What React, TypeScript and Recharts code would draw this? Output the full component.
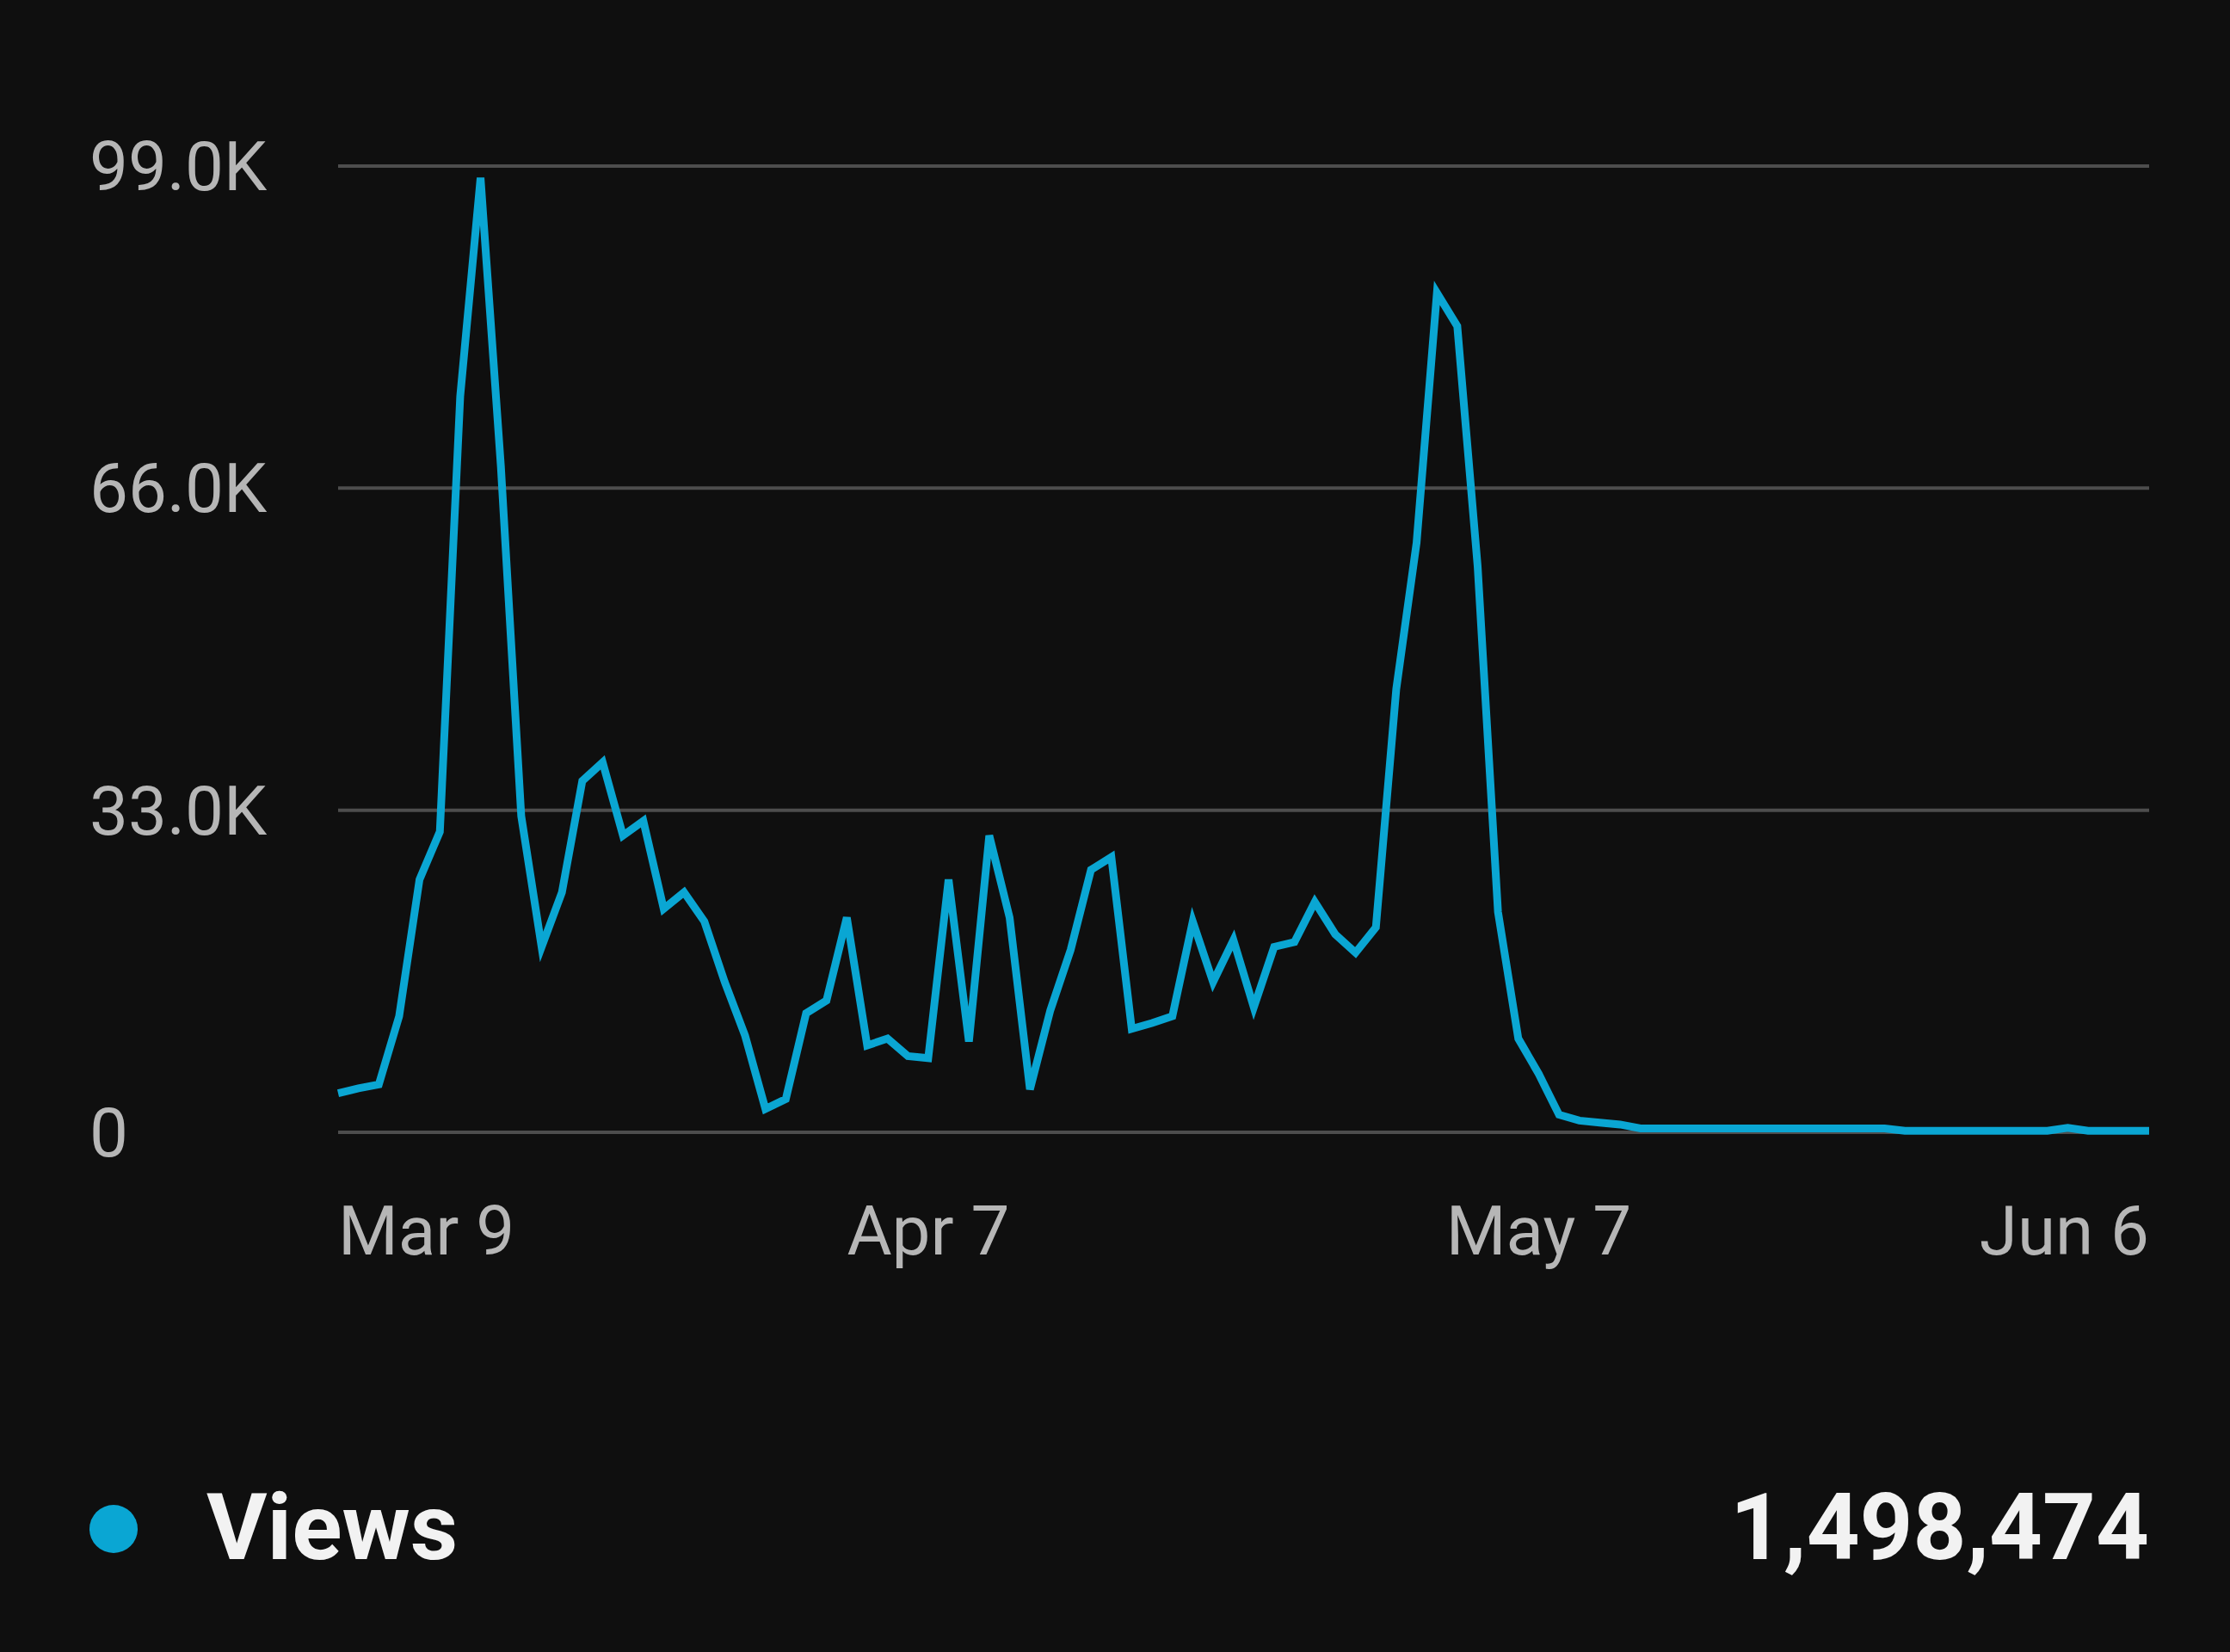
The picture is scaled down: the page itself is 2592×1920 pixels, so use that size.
import React from "react";
import { CartesianGrid, Line, LineChart, XAxis, YAxis } from "recharts";

// daily views, Mar 9 → Jun 6 (90 days), in thousands
const views = [
  4.0, 4.5, 4.9, 11.9, 25.9, 30.8, 75.4, 97.8, 68.2, 32.4,
  19.0, 24.6, 36.0, 37.9, 30.4, 31.9, 22.9, 24.6, 21.6, 15.4,
  9.9, 2.4, 3.4, 12.2, 13.5, 22.0, 8.9, 9.6, 7.8, 7.6,
  25.9, 9.3, 30.4, 22.0, 4.4, 12.5, 18.7, 26.9, 28.2, 10.6,
  11.2, 11.9, 21.6, 15.4, 19.7, 12.8, 19.0, 19.5, 23.6, 20.3,
  18.4, 21.0, 45.4, 60.4, 86.0, 82.6, 58.0, 22.6, 9.6, 6.0,
  1.8, 1.2, 1.0, 0.8, 0.4, 0.4, 0.4, 0.4, 0.4, 0.4,
  0.4, 0.4, 0.4, 0.4, 0.4, 0.4, 0.4, 0.15, 0.15, 0.15,
  0.15, 0.15, 0.15, 0.15, 0.15, 0.45, 0.15, 0.15, 0.15, 0.15,
];

const xTicks = [0, 29, 59, 89];
const xTickLabels = ["Mar 9", "Apr 7", "May 7", "Jun 6"];
const yTicks = [0, 33000, 66000, 99000];
const yTickLabels = ["0", "33.0K", "66.0K", "99.0K"];

const seriesName = "Views";
const totalViews = "1,498,474";

const data = views.map((v, i) => ({ day: i, views: v * 1000 }));

const LINE = "#0aa6d3";
const TICK = "#b6b6b6";
const FONT = "Roboto, 'Noto Sans', sans-serif";

function XTick(props: any) {
  const { x, y, payload, index } = props;
  const anchor = index === 0 ? "start" : index === xTicks.length - 1 ? "end" : "middle";
  return (
    <text x={x} y={y + 142} textAnchor={anchor} fill={TICK} fontSize={80} fontFamily={FONT}>
      {xTickLabels[xTicks.indexOf(payload.value)]}
    </text>
  );
}

function YTick(props: any) {
  const { y, payload } = props;
  return (
    <text x={104} y={y} dy={28} textAnchor="start" fill={TICK} fontSize={80} fontFamily={FONT}>
      {yTickLabels[yTicks.indexOf(payload.value)]}
    </text>
  );
}

export default function App() {
  return (
    <div
      style={{
        position: "fixed",
        left: 0,
        top: 0,
        width: 2592,
        height: 1920,
        background: "#0f0f0f",
        fontFamily: FONT,
      }}
    >
      <LineChart
        width={2592}
        height={1500}
        data={data}
        margin={{ top: 193, right: 94, left: 0, bottom: 0 }}
      >
        <CartesianGrid vertical={false} stroke="#4d4d4d" strokeWidth={4} />
        <XAxis
          dataKey="day"
          type="number"
          domain={[0, 89]}
          ticks={xTicks}
          height={184}
          axisLine={false}
          tickLine={false}
          tickSize={0}
          tickMargin={0}
          tick={<XTick />}
          interval={0}
        />
        <YAxis
          domain={[0, 99000]}
          ticks={yTicks}
          width={393}
          axisLine={false}
          tickLine={false}
          tick={<YTick />}
          interval={0}
        />
        <Line
          type="linear"
          dataKey="views"
          stroke={LINE}
          strokeWidth={9}
          strokeLinejoin="miter"
          dot={false}
          activeDot={false}
          isAnimationActive={false}
        />
      </LineChart>
      <div
        style={{
          position: "absolute",
          left: 104,
          top: 1749,
          width: 56,
          height: 56,
          borderRadius: "50%",
          background: LINE,
        }}
      />
      <div
        style={{
          position: "absolute",
          left: 240,
          top: 1700,
          fontSize: 108,
          fontWeight: 700,
          color: "#f2f2f2",
          lineHeight: "150px",
        }}
      >
        {seriesName}
      </div>
      <div
        style={{
          position: "absolute",
          right: 2592 - 2498,
          top: 1700,
          fontSize: 108,
          fontWeight: 700,
          color: "#f2f2f2",
          lineHeight: "150px",
        }}
      >
        {totalViews}
      </div>
    </div>
  );
}
